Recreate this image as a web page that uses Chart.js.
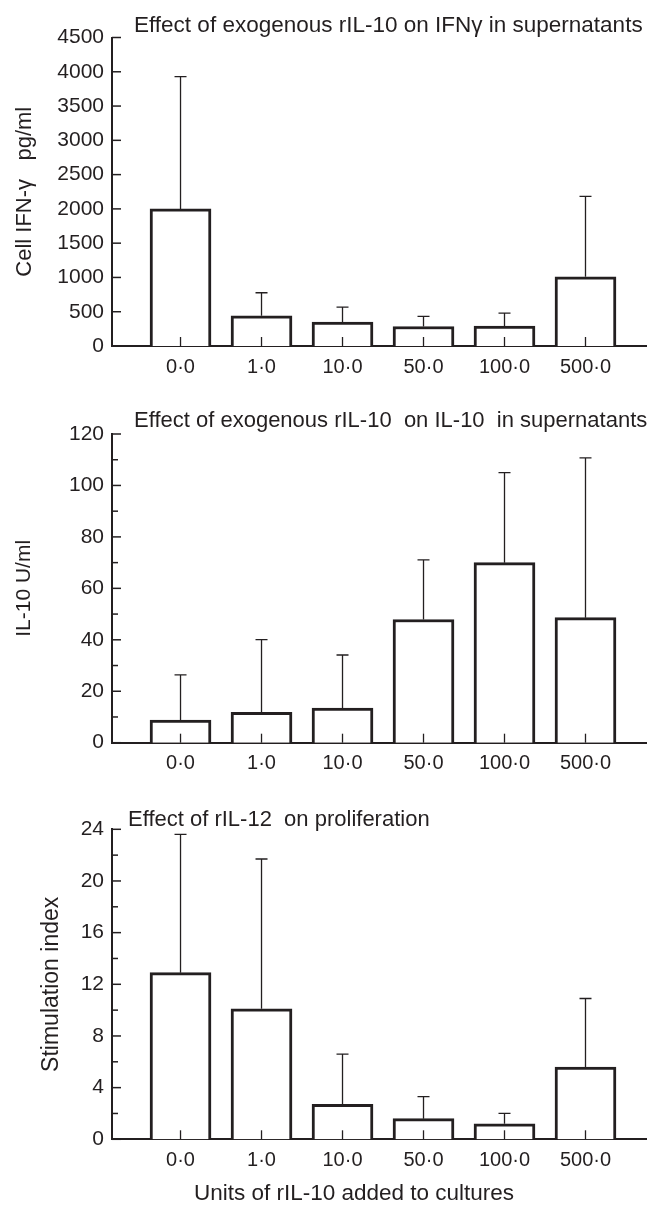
<!DOCTYPE html>
<html><head><meta charset="utf-8">
<script src="https://cdn.jsdelivr.net/npm/chart.js@4.4.0/dist/chart.umd.min.js"></script>
<style>
html,body{margin:0;padding:0;background:#fff;}
.p{position:absolute;left:0;width:657px;}
</style></head><body>
<div class="p" style="top:0;height:400px"><canvas id="c1"></canvas></div>
<div class="p" style="top:400px;height:400px"><canvas id="c2"></canvas></div>
<div class="p" style="top:800px;height:405px"><canvas id="c3"></canvas></div>
<script>
// ---- data ----
const categories = ['0·0', '1·0', '10·0', '50·0', '100·0', '500·0'];
const ifnMean = [2000, 440, 350, 285, 290, 1010];
const ifnSD   = [1930, 337, 218, 146, 189, 1173];
const il10Mean = [8.8, 11.8, 13.5, 47.9, 70.0, 48.6];
const il10SD   = [17.6, 28.3, 20.6, 23.2, 35.0, 62.1];
const siMean = [12.9, 10.1, 2.7, 1.6, 1.2, 5.6];
const siSD   = [10.7, 11.6, 3.9, 1.7, 0.8, 5.3];

const INK = '#231f20';
const FONT = '"Liberation Sans", Arial, Helvetica, sans-serif';

const decor = {
  id: 'decor',
  afterDatasetsDraw(chart, args, opts) {
    const ctx = chart.ctx, xs = chart.scales.x, ys = chart.scales.y, ca = chart.chartArea;
    const ds = chart.data.datasets[0];
    const meta = chart.getDatasetMeta(0);
    ctx.save();
    ctx.strokeStyle = INK;
    // error bars (upper)
    ctx.lineWidth = 1.3;
    meta.data.forEach((el, i) => {
      const top = ys.getPixelForValue(ds.data[i].y + opts.err[i]);
      ctx.beginPath();
      ctx.moveTo(el.x, el.y); ctx.lineTo(el.x, top);
      ctx.moveTo(el.x - 6, top); ctx.lineTo(el.x + 6, top);
      ctx.stroke();
    });
    // inward x ticks
    xs.ticks.forEach(t => {
      const px = xs.getPixelForValue(t.value);
      ctx.beginPath(); ctx.moveTo(px, ca.bottom); ctx.lineTo(px, ca.bottom - 9); ctx.stroke();
    });
    // inward y ticks
    ctx.lineWidth = 1.5;
    ys.ticks.forEach(t => {
      const py = ys.getPixelForValue(t.value);
      ctx.beginPath(); ctx.moveTo(ca.left, py); ctx.lineTo(ca.left + 9, py); ctx.stroke();
    });
    if (opts.minor) {
      for (let v = opts.minor; v < ys.max; v += opts.minor * 2) {
        const py = ys.getPixelForValue(v);
        ctx.beginPath(); ctx.moveTo(ca.left, py); ctx.lineTo(ca.left + 6, py); ctx.stroke();
      }
    }
    // texts
    ctx.fillStyle = INK;
    ctx.textBaseline = 'alphabetic';
    ctx.textAlign = 'left';
    ctx.font = opts.tsize + 'px ' + FONT;
    ctx.fillText(opts.title, opts.tx, opts.ty);
    if (opts.xtitle) {
      ctx.textAlign = 'center';
      ctx.font = '22.5px ' + FONT;
      ctx.fillText(opts.xtitle, opts.xtx, opts.xty);
    }
    ctx.restore();
  }
};

function makeChart(id, canvasH, padTop, plotH, means, sds, yMax, yStep, yTitle, yTitleSize, yTitlePad, decorOpts) {
  return new Chart(document.getElementById(id), {
    type: 'bar',
    data: {
      datasets: [{
        data: means.map((v, i) => ({ x: i, y: v })),
        backgroundColor: '#ffffff',
        borderColor: INK,
        borderWidth: 3,
        barThickness: 61,
        borderSkipped: 'start'
      }]
    },
    plugins: [decor],
    options: {
      responsive: true,
      maintainAspectRatio: false,
      animation: false,
      events: [],
      layout: { padding: { top: padTop, right: 11, left: 0, bottom: 0 } },
      plugins: { legend: { display: false }, tooltip: { enabled: false }, decor: decorOpts },
      scales: {
        x: {
          type: 'linear',
          offset: false,
          min: -0.846, max: 5.747,
          afterBuildTicks: s => { s.ticks = categories.map((c, i) => ({ value: i })); },
          afterFit: s => { s.height = canvasH - padTop - plotH; },
          grid: { display: false, drawTicks: false },
          border: { display: true, color: INK, width: 2 },
          ticks: {
            autoSkip: false, maxRotation: 0, padding: 9,
            color: INK, font: { family: FONT, size: 20 },
            callback: v => categories[v]
          }
        },
        y: {
          min: 0, max: yMax,
          afterFit: s => { s.width = 112; },
          grid: { display: false, drawTicks: false },
          border: { display: true, color: INK, width: 2 },
          ticks: { stepSize: yStep, padding: 8, color: INK, font: { family: FONT, size: 21 },
                   callback: v => String(v) },
          title: { display: true, text: yTitle, color: INK, font: { family: FONT, size: yTitleSize },
                   padding: { top: yTitlePad, bottom: 0 } }
        }
      }
    }
  });
}

makeChart('c1', 400, 37.5, 308.5, ifnMean, ifnSD, 4500, 500, 'Cell IFN-γ   pg/ml', 22, 12,
  { err: ifnSD, title: 'Effect of exogenous rIL-10 on IFNγ in supernatants', tsize: 22.5, tx: 134, ty: 31.5 });
makeChart('c2', 400, 34, 308.7, il10Mean, il10SD, 120, 20, 'IL-10 U/ml', 21, 12,
  { err: il10SD, minor: 10, title: 'Effect of exogenous rIL-10  on IL-10  in supernatants', tsize: 22, tx: 134, ty: 26.5 });
makeChart('c3', 405, 29.3, 310, siMean, siSD, 24, 4, 'Stimulation index', 23, 38,
  { err: siSD, minor: 2, title: 'Effect of rIL-12  on proliferation', tsize: 22, tx: 128, ty: 26,
    xtitle: 'Units of rIL-10 added to cultures', xtx: 354, xty: 400 });
</script>
</body></html>
